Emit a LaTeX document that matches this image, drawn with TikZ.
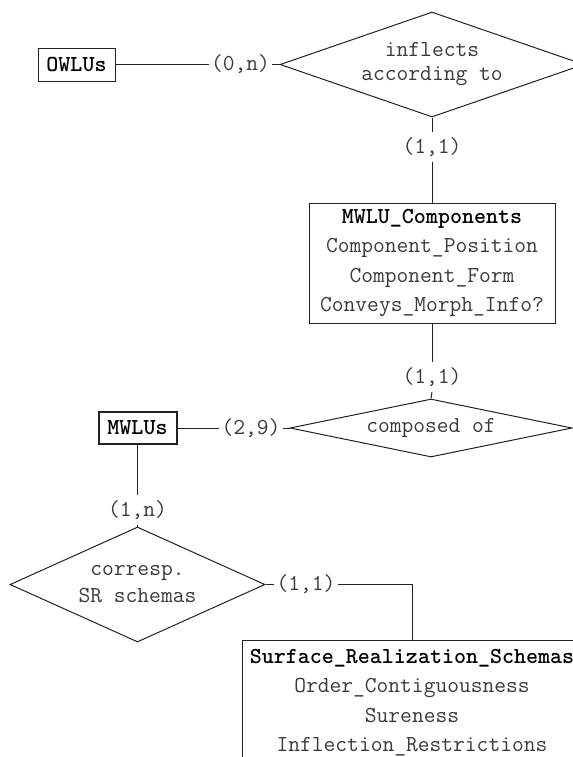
\documentclass[tikz,border=0pt]{standalone}
\renewcommand{\familydefault}{\ttdefault}
\definecolor{erline}{HTML}{222222}
\definecolor{ertext}{HTML}{3a3a3a}
\usepackage{tikz}
\usetikzlibrary{shapes.geometric, positioning, calc}

\tikzset{
	entity/.style = {draw = erline, line width = 0.5pt, inner sep = 0pt, font = \fontsize{11.43}{12}\fontseries{b}\selectfont, text = black},
	relation/.style = {diamond, draw = erline, line width = 0.5pt, inner sep = 0pt, align = center, text = ertext, font = \fontsize{11.43}{12}\selectfont},
	card/.style = {inner xsep = 1pt, inner ysep = 2.5pt, text = ertext},
	attrbox/.style = {draw = erline, line width = 0.5pt, inner sep = 0pt, align = center, text = ertext, font = \fontsize{11.43}{14.75}\selectfont},
	conn/.style = {draw = erline, line width = 0.5pt}
}

\begin{document}
\begin{tikzpicture}[x = 0.5pt, y = -0.5pt, font = \fontsize{11.43}{12}\selectfont]
		\useasboundingbox (0,0) rectangle (573,757);
		\clip (0,0) rectangle (573,757);
		% entities and relations
		\node[entity, minimum width = 38.5pt, minimum height = 16.5pt] (owlus) at (76.5,64.5) {OWLUs};
		\node[relation, shape aspect = 2.9, minimum width = 152pt, minimum height = 52.5pt] (inflects) at (432,64.5) {inflects\\according to};
		\node[attrbox, minimum width = 123pt, minimum height = 60pt] (mwlucomp) at (432,263) {{\color{black}\fontseries{b}\selectfont MWLU\_Components}\\Component\_Position\\Component\_Form\\Conveys\_Morph\_Info?};
		\node[relation, shape aspect = 4.86, minimum width = 141pt, minimum height = 29pt] (composed) at (431,428) {composed of};
		\node[entity, line width = 1pt, minimum width = 39pt, minimum height = 16pt] (mwlus) at (137.5,428) {MWLUs};
		\node[relation, shape aspect = 2.22, minimum width = 127.5pt, minimum height = 57.5pt, font = \fontsize{11.43}{13.5}\selectfont] (corresp) at (137.5,584.5) {corresp.\\SR schemas};
		\node[attrbox, minimum width = 170pt, minimum height = 62.5pt] (srs) at (412,702.5) {{\color{black}\fontseries{b}\selectfont Surface\_Realization\_Schemas}\\Order\_Contiguousness\\Sureness\\Inflection\_Restrictions};
		% cardinalities
		\node[card] (c_owl) at (240.5,64.5) {(0,n)};
		\node[card] (c_infl) at (432,147) {(1,1)};
		\node[card] (c_comp) at (432,377) {(1,1)};
		\node[card] (c_mwlu) at (251,428) {(2,9)};
		\node[card] (c_corr) at (137.5,510) {(1,n)};
		\node[card] (c_srs) at (306,584.5) {(1,1)};
		% connectors
		\draw[conn] (owlus.east) -- (c_owl.west);
		\draw[conn] (c_owl.east) -- (inflects.west);
		\draw[conn] (inflects.south) -- (c_infl.north);
		\draw[conn] (c_infl.south) -- (mwlucomp.north);
		\draw[conn] (mwlucomp.south) -- (c_comp.north);
		\draw[conn] (c_comp.south) -- (composed.north);
		\draw[conn] (mwlus.east) -- (c_mwlu.west);
		\draw[conn] (c_mwlu.east) -- (composed.west);
		\draw[conn] (mwlus.south) -- (c_corr.north);
		\draw[conn] (c_corr.south) -- (corresp.north);
		\draw[conn] (corresp.east) -- (c_srs.west);
		\draw[conn] (c_srs.east) -| (srs.north);
	\end{tikzpicture}
\end{document}
